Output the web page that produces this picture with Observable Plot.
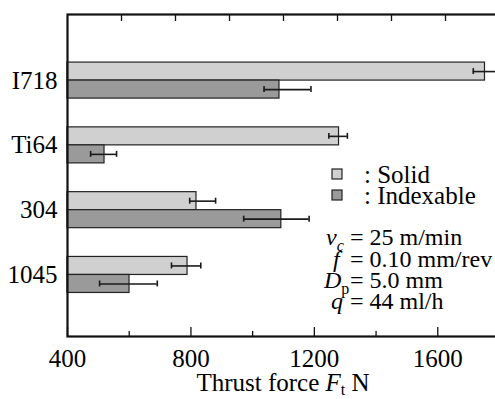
<!DOCTYPE html>
<html><head><meta charset="utf-8">
<script src="https://cdn.jsdelivr.net/npm/d3@7"></script>
<script src="https://cdn.jsdelivr.net/npm/@observablehq/plot@0.6"></script>
<style>
html,body{margin:0;padding:0;background:#fff;overflow:hidden;}
#chart svg{display:block;overflow:hidden;}
</style></head><body><div id="chart"></div>
<script>
// ---- data ----
const materials = ["I718", "Ti64", "304", "1045"];
const series = ["Solid", "Indexable"];
const seriesColors = ["#d0d0d0", "#9a9a9a"];
const solidMean = [1753, 1280, 818, 789];
const solidLow  = [1715, 1247, 796, 737];
const solidHigh = [1788, 1307, 880, 832];
const indexMean = [1087, 520, 1093, 601];
const indexLow  = [1037, 475, 971, 504];
const indexHigh = [1189, 559, 1183, 691];
const xDomain = [400, 1800];
const xTicks = [400, 800, 1200, 1600];
const xMinorTicks = [600, 1000, 1400];
const topTicks = [575, 750, 925, 1100, 1275, 1450, 1625];
const yTicks = [0, 1, 2, 3];

// ---- build rows ----
const BAR = 0.278;  // bar thickness in category units
const CAP = 0.046;  // half error-cap height
const rows = [];
materials.forEach((m, i) => {
  rows.push({material: m, i, series: "Solid", value: solidMean[i], low: solidLow[i], high: solidHigh[i], c: i - BAR / 2, y1: i - BAR, y2: i});
  rows.push({material: m, i, series: "Indexable", value: indexMean[i], low: indexLow[i], high: indexHigh[i], c: i + BAR / 2, y1: i, y2: i + BAR});
});
const caps = rows.flatMap(d => [{x: d.low, c: d.c}, {x: d.high, c: d.c}]);

const W = 495, H = 399, mT = 14, mB = 63, mL = 67, mR = -4;
const frameH = H - mT - mB;
const FONT = "'Liberation Serif', 'Times New Roman', serif";

const chart = Plot.plot({
  width: W, height: H,
  marginTop: mT, marginBottom: mB, marginLeft: mL, marginRight: mR,
  style: {fontFamily: FONT, fontSize: "25px", background: "#fff", color: "#000"},
  x: {domain: xDomain, label: null},
  y: {domain: [-1.02, 3.95], reverse: true, label: null},
  color: {domain: series, range: seriesColors},
  marks: [
    Plot.rect(rows, {x1: () => xDomain[0], x2: "value", y1: "y1", y2: "y2", fill: "series", stroke: "#222", strokeWidth: 1.2}),
    Plot.ruleY(rows, {y: "c", x1: "low", x2: "high", stroke: "#1a1a1a", strokeWidth: 1.6}),
    Plot.ruleX(caps, {x: "x", y1: d => d.c - CAP, y2: d => d.c + CAP, stroke: "#1a1a1a", strokeWidth: 1.6}),
    Plot.tickX(xTicks, {x: d => d, insetTop: frameH - 9, stroke: "#111", strokeWidth: 1.3}),
    Plot.tickX(xMinorTicks, {x: d => d, insetTop: frameH - 5, stroke: "#111", strokeWidth: 1.3}),
    Plot.tickX(topTicks, {x: d => d, insetBottom: frameH - 7, stroke: "#111", strokeWidth: 1.3}),
    Plot.frame({stroke: "#111", strokeWidth: 2.2}),
    Plot.axisX({ticks: xTicks, tickFormat: d => String(d), tickSize: 0, tickPadding: 13, label: null, fontSize: 25}),
    Plot.axisY({ticks: yTicks, tickFormat: i => materials[i], tickSize: 0, tickPadding: 10, label: null, fontSize: 25})
  ]
});
document.getElementById("chart").appendChild(chart);

// ---- annotations (text) ----
const svg = d3.select(chart);
const g = svg.append("g").attr("font-family", FONT).attr("font-size", 25).attr("fill", "#000").attr("text-anchor", "start");

// legend
const legendRows = [{y: 169, ty: 183}, {y: 190, ty: 204}];
series.forEach((s, k) => {
  g.append("rect").attr("x", 332).attr("y", legendRows[k].y).attr("width", 10).attr("height", 10)
    .attr("fill", seriesColors[k]).attr("stroke", "#222").attr("stroke-width", 1.2);
  g.append("text").attr("x", 364).attr("y", legendRows[k].ty).attr("text-anchor", "start").text(": " + s);
});

// parameters
function param(x, y, v, sub, subItalic, rest) {
  const t = g.append("text").attr("y", y).attr("text-anchor", "start").attr("font-size", 24);
  t.append("tspan").attr("x", x).attr("font-style", "italic").text(v);
  if (sub) t.append("tspan").attr("font-size", 16).attr("dy", 6).attr("font-style", subItalic ? "italic" : "normal").text(sub);
  g.append("text").attr("x", 350).attr("y", y).attr("text-anchor", "start").attr("font-size", 24).text(rest);
}
param(326, 245, "v", "c", true, "= 25 m/min");
param(333, 267, "f", null, false, "= 0.10 mm/rev");
param(324, 288, "D", "p", false, "= 5.0 mm");
param(331, 309, "q", null, false, "= 44 ml/h");

// x-axis title
const xt = g.append("text").attr("x", 283).attr("y", 391).attr("text-anchor", "middle");
xt.append("tspan").text("Thrust force ");
xt.append("tspan").attr("font-style", "italic").text("F");
xt.append("tspan").attr("font-size", 16).attr("dy", 4).text("t");
xt.append("tspan").attr("dy", -4).text(" N");
</script></body></html>
